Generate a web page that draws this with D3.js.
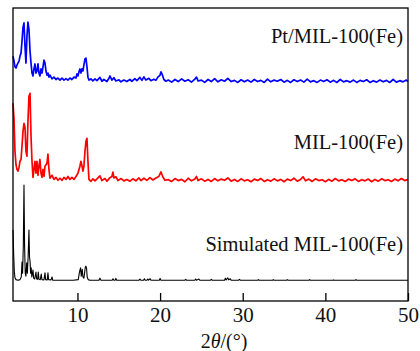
<!DOCTYPE html>
<html>
<head>
<meta charset="utf-8">
<script src="https://cdn.jsdelivr.net/npm/d3@7"></script>
<style>
  html, body { margin: 0; padding: 0; background: #fff; }
  #chart { width: 420px; height: 351px; }
  text { font-family: "Liberation Serif", "Times New Roman", serif; fill: #111; }
</style>
</head>
<body>
<div id="chart"></div>
<script>
// 2θ (deg) vs intensity (a.u.)
const ptMil = [
  [2.2,9.2],[2.32,7.5],[2.44,5.5],[2.56,5.1],[2.68,6.1],[2.8,6.8],[2.93,7.5],[3.05,9.2],[3.17,10.2],[3.29,14.3],
  [3.41,19],[3.53,20.5],[3.65,12.6],[3.77,6.8],[3.89,16],[4.01,20.8],[4.13,18.4],[4.26,10.9],[4.38,6.8],[4.5,3.4],
  [4.62,2.4],[4.74,4.8],[4.86,6.5],[4.98,3.4],[5.1,4.1],[5.22,6.5],[5.34,3.4],[5.46,2.4],[5.59,4.8],[5.71,3.4],
  [5.83,5.5],[5.95,7.8],[6.07,6.8],[6.19,4.1],[6.31,2.7],[6.43,3.4],[6.55,2],[6.67,2.7],[6.92,1.4],[7.16,2],
  [7.4,1.2],[7.64,1.7],[7.88,1],[8.13,1.7],[8.37,1],[8.61,1.5],[8.85,1],[9.09,1.7],[9.33,1.2],[9.58,2],
  [9.82,1.7],[9.94,3.1],[10.06,2.4],[10.18,3.8],[10.3,4.8],[10.42,3.4],[10.54,4.8],[10.66,4.1],[10.78,6.1],[10.91,8.2],
  [11.03,8.5],[11.15,5.5],[11.27,2],[11.39,1],[11.63,1.4],[11.87,0.7],[12.12,1.4],[12.36,0.8],[12.72,1.9],[12.96,0.6],
  [13.2,1.2],[13.57,0.5],[13.81,1.6],[13.93,2.4],[14.17,1],[14.41,1.8],[14.65,0.7],[15.02,1.1],[15.26,0.4],[15.62,1],
  [15.98,0.5],[16.35,1.2],[16.59,0.6],[16.95,1.5],[17.19,0.8],[17.56,1.9],[17.8,0.9],[18.04,2.1],[18.28,1],[18.64,1.6],
  [18.89,0.8],[19.25,1.3],[19.49,0.9],[19.73,2],[19.98,2.6],[20.1,3.8],[20.22,3.2],[20.46,1.2],[20.7,0.6],
  [21,1],[21.4,0.3],[21.8,1.2],[22.2,0.5],[22.6,1.4],[23,0.6],[23.4,1.1],[23.8,0.3],[24.2,1.3],[24.4,2],
  [24.6,0.7],[25,1],[25.4,0.2],[25.8,1.2],[26.2,0.5],[26.6,1.5],[27,0.4],[27.4,1.1],[27.8,0.6],[28.2,1.6],
  [28.6,0.5],[29,0.9],[29.4,0.2],[29.8,1.1],[30.2,0.4],[30.6,1],[31,0.3],[31.4,1.2],[31.8,0.5],[32.2,0.9],
  [32.6,0.2],[33,1.3],[33.4,0.4],[33.8,1],[34.2,0.6],[34.6,1.2],[35,0.3],[35.4,0.9],[35.8,0.2],[36.2,1.1],
  [36.6,0.5],[37,1],[37.4,0.3],[37.8,1.3],[38.2,0.4],[38.6,0.8],[39,0.2],[39.4,1],[39.8,0.5],[40.2,1.1],
  [40.6,0.3],[41,0.9],[41.4,0.2],[41.8,1.2],[42.2,0.4],[42.6,0.8],[43,0.3],[43.4,1],[43.8,0.2],[44.2,0.9],
  [44.6,0.5],[45,1.1],[45.4,0.2],[45.8,0.8],[46.2,0.3],[46.6,1],[47,0.4],[47.4,0.9],[47.8,0.2],[48.2,1.2],
  [48.6,0.3],[49,0.8],[49.4,0.4],[49.8,1],[50,0.5]
];

const mil = [
  [2.2,27],[2.32,21.5],[2.44,10.6],[2.56,6.1],[2.68,4.4],[2.8,3.8],[2.93,5.1],[3.05,7.2],[3.17,7.8],[3.29,12.3],
  [3.41,17.4],[3.53,20.1],[3.65,18.8],[3.77,10.6],[3.89,8.9],[4.01,20.8],[4.13,29.4],[4.26,30.4],[4.38,15.7],[4.5,7.2],
  [4.62,1.7],[4.74,4.4],[4.86,7.2],[4.98,3.1],[5.1,7.2],[5.22,2.4],[5.34,5.5],[5.46,7.8],[5.59,3.1],[5.71,1.7],
  [5.83,4.4],[5.95,2],[6.07,5.5],[6.31,6.5],[6.43,9.6],[6.55,4.4],[6.67,1.4],[6.92,2.4],[7.16,1],[7.4,1.7],
  [7.64,0.7],[7.88,1.4],[8.13,0.7],[8.37,1.7],[8.61,1],[8.85,2],[9.09,1],[9.33,1.7],[9.58,1],[9.82,2],
  [10.06,3.1],[10.3,5.5],[10.42,7.2],[10.54,5.8],[10.66,3.8],[10.78,5.5],[10.91,10.6],[11.03,14],[11.15,15],[11.27,7.2],
  [11.39,1],[11.63,0.3],[11.87,1.2],[12.12,0.5],[12.48,1.5],[12.72,2.2],[12.96,0.6],[13.33,1.3],[13.57,0.4],[13.93,1.6],
  [14.17,2],[14.29,3.5],[14.41,1.5],[14.65,1.9],[14.9,0.6],[15.26,1.3],[15.62,0.5],[15.98,1],[16.35,0.4],[16.71,1.2],
  [17.07,0.5],[17.44,1.5],[17.68,0.6],[18.04,1.4],[18.4,0.7],[18.77,1.6],[19.13,0.8],[19.49,1.5],[19.85,2],[20.1,3.6],
  [20.34,1.8],[20.58,0.7],
  [21,0.9],[21.4,0.3],[21.8,1.3],[22.2,0.6],[22.6,1],[23,0.2],[23.4,1.4],[23.8,0.5],[24.2,1.1],[24.4,2],
  [24.6,0.6],[25,1.2],[25.4,0.4],[25.8,1],[26.2,0.3],[26.6,1.3],[27,0.5],[27.4,1.1],[27.8,0.7],[28.2,1.5],
  [28.6,0.4],[29,1],[29.4,0.3],[29.8,1.2],[30.2,0.5],[30.6,0.9],[31,0.2],[31.4,1.1],[31.8,0.6],[32.2,1.3],
  [32.6,0.3],[33,0.9],[33.4,0.4],[33.8,1.2],[34.2,0.5],[34.6,1],[35,0.2],[35.4,1.1],[35.8,0.6],[36.2,1.4],
  [36.6,0.4],[37,1],[37.3,1.9],[37.6,0.5],[38,1.1],[38.4,0.3],[38.8,1.2],[39.2,0.6],[39.6,0.9],[40,0.2],
  [40.4,1],[40.8,0.4],[41.2,1.3],[41.6,0.5],[42,0.9],[42.4,0.3],[42.8,1.1],[43.2,0.6],[43.6,1.2],[44,0.3],
  [44.4,0.9],[44.8,0.5],[45.2,1.1],[45.6,0.2],[46,1],[46.4,0.4],[46.8,1.2],[47.2,0.6],[47.6,0.9],[48,0.3],
  [48.4,1.1],[48.8,0.5],[49.2,1.3],[49.6,0.6],[50,1]
];

const simulated = [
  [2.2,17.2],[2.28,9],[2.36,3],[2.44,0.9],[2.56,0.3],[2.8,0.1],[3.05,0.3],[3.2,1.2],[3.29,6.3],[3.36,2.5],
  [3.45,12],[3.53,32.6],[3.6,12],[3.68,2.5],[3.76,1.5],[3.86,6],[3.94,2.5],[4.03,8],[4.13,17.2],[4.2,8],
  [4.27,6.3],[4.33,2.5],[4.4,4.3],[4.48,1.2],[4.62,3.6],[4.7,0.8],[4.82,0.5],[4.98,2.9],[5.06,0.5],[5.18,0.4],
  [5.26,2.9],[5.34,0.4],[5.5,0.3],[5.62,2.2],[5.7,0.3],[5.95,0.2],[6.07,2.6],[6.15,0.3],[6.35,0.2],[6.43,2.6],
  [6.51,0.3],[6.8,0.2],[6.92,1.2],[7,0.1],[8,0.1],[9.5,0.1],[10.1,0.3],[10.22,2.5],[10.3,3.5],[10.38,4.3],
  [10.46,1.5],[10.58,3.8],[10.66,1.2],[10.78,0.8],[10.86,2.5],[10.95,4.5],[11.02,4.9],[11.1,4.2],[11.18,1.2],[11.3,0.3],
  [11.5,0.1],[12.6,0.1],[12.72,0.8],[12.84,0.1],[14.2,0.1],[14.3,0.6],[14.4,0.1],[14.55,0.1],[14.65,0.7],[14.75,0.1],
  [17.45,0.1],[17.56,0.5],[17.66,0.1],[18,0.1],[18.1,0.6],[18.2,0.1],[18.4,0.1],[18.5,0.5],[18.6,0.1],[18.8,0.6],
  [18.9,0.1],[19.9,0.1],[20,0.7],[20.1,0.1],[23,0.1],[23.1,0.4],[23.2,0.1],[24.2,0.1],[24.3,0.5],[24.4,0.1],
  [24.7,0.5],[24.8,0.1],[26.1,0.1],[26.2,0.4],[26.3,0.1],[27.8,0.1],[27.9,0.8],[28,0.2],[28.2,0.9],[28.3,0.2],
  [28.5,0.6],[28.6,0.1],[29.5,0.1],[29.6,0.4],[29.7,0.1],[31.8,0.1],[31.9,0.3],[32,0.1],[33.6,0.1],[33.7,0.3],
  [33.8,0.1],[35.3,0.1],[35.4,0.3],[35.5,0.1],[38,0.1],[38.1,0.3],[38.2,0.1],[40.9,0.1],[41,0.2],[41.1,0.1],
  [43.6,0.1],[43.7,0.3],[43.8,0.1],[50,0.1]
];

const seriesNames = ['Pt/MIL-100(Fe)', 'MIL-100(Fe)', 'Simulated MIL-100(Fe)'];
const seriesData = [ptMil, mil, simulated];
const offsets = [74.4, 40.5, 7];
const labelLevels = [88, 52, 17];
const colors = ['#0000ff', '#ff0000', '#000000'];
const xTicks = [10, 20, 30, 40, 50];

const margin = { top: 8, right: 12, bottom: 50, left: 13 };
const width = 420 - margin.left - margin.right;
const height = 351 - margin.top - margin.bottom;

const svg = d3.select('#chart')
  .append('svg')
  .attr('width', 420)
  .attr('height', 351)
  .append('g')
  .attr('transform', `translate(${margin.left},${margin.top})`);

const x = d3.scaleLinear().domain([2.2, 50]).range([0, width]);
const y = d3.scaleLinear().domain([0, 100]).range([height, 0]);

// Patterns, stacked with offsets
seriesData.forEach((data, i) => {
  const line = d3.line()
    .x(d => x(d[0]))
    .y(d => y(d[1] + offsets[i]));
  svg.append('path')
    .datum(data)
    .attr('fill', 'none')
    .attr('stroke', colors[i])
    .attr('stroke-width', i === 2 ? 1.1 : 1.7)
    .attr('stroke-linejoin', 'round')
    .attr('d', line);
});

// Series labels
seriesNames.forEach((name, i) => {
  svg.append('text')
    .attr('x', width - 5)
    .attr('y', y(labelLevels[i]))
    .attr('text-anchor', 'end')
    .style('font-size', '20.5px')
    .text(name);
});

// X axis, ticks pointing inward
const xAxis = svg.append('g')
  .attr('transform', `translate(0,${height})`)
  .call(d3.axisBottom(x).tickValues(xTicks).tickSizeInner(-8).tickSizeOuter(0).tickPadding(6));
xAxis.select('.domain').remove();
xAxis.selectAll('line').attr('stroke', '#000').attr('stroke-width', 1.3);
xAxis.selectAll('text')
  .style('font-size', '21px')
  .style('font-family', '"Liberation Serif", "Times New Roman", serif')
  .attr('fill', '#111');

// Frame
svg.append('rect')
  .attr('width', width)
  .attr('height', height)
  .attr('fill', 'none')
  .attr('stroke', '#000')
  .attr('stroke-width', 1.3);

// Axis title
const xTitle = svg.append('text')
  .attr('x', 211)
  .attr('y', height + 47)
  .attr('text-anchor', 'middle')
  .style('font-size', '20px');
xTitle.append('tspan').text('2');
xTitle.append('tspan').style('font-style', 'italic').text('θ');
xTitle.append('tspan').text('/(°)');
</script>
</body>
</html>
